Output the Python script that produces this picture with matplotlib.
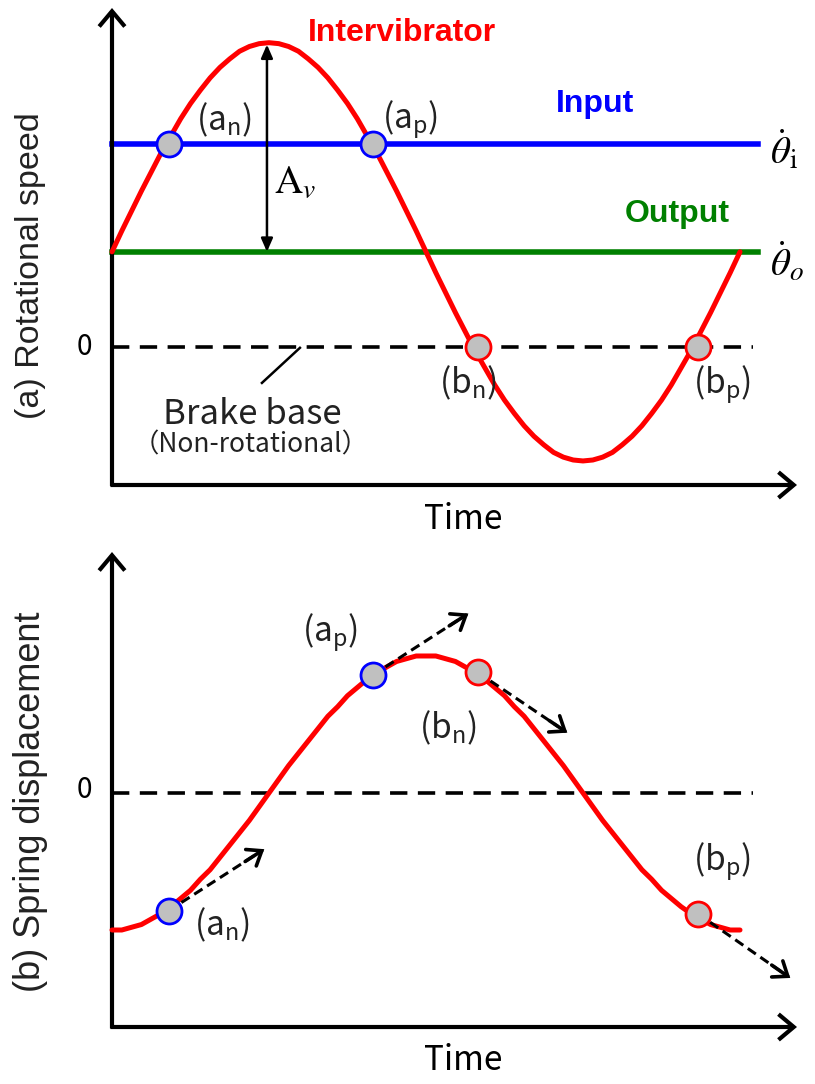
import numpy as np
import matplotlib
matplotlib.use("Agg")
import matplotlib.pyplot as plt

plt.rcParams['mathtext.fontset'] = 'stix'

# ---------------- data ----------------
# time in quarter-periods (0..4 = one vibration period)
time = np.linspace(0, 4, 65)
# (a) rotational speed of intervibrator (output level = 1)
intervibrator = [1.00, 1.22, 1.43, 1.64, 1.84, 2.04, 2.22, 2.40, 2.56,
                 2.70, 2.83, 2.94, 3.03, 3.11, 3.16, 3.19, 3.20,
                 3.19, 3.16, 3.11, 3.03, 2.94, 2.83, 2.70, 2.56,
                 2.40, 2.22, 2.04, 1.84, 1.64, 1.43, 1.22, 1.00,
                 0.78, 0.57, 0.36, 0.16, -0.04, -0.22, -0.40, -0.56,
                 -0.70, -0.83, -0.94, -1.03, -1.11, -1.16, -1.19, -1.20,
                 -1.19, -1.16, -1.11, -1.03, -0.94, -0.83, -0.70, -0.56,
                 -0.40, -0.22, -0.04, 0.16, 0.36, 0.57, 0.78, 1.00]
input_speed = 2.13
output_speed = 1.00
brake_speed = 0.0
line_end = 4.115
# (b) spring displacement
spring = [-1.00, -1.00, -0.98, -0.96, -0.92, -0.88, -0.83, -0.77, -0.71,
          -0.63, -0.56, -0.47, -0.38, -0.29, -0.20, -0.10, 0.00,
          0.10, 0.20, 0.29, 0.38, 0.47, 0.56, 0.63, 0.71,
          0.77, 0.83, 0.88, 0.92, 0.96, 0.98, 1.00, 1.00,
          1.00, 0.98, 0.96, 0.92, 0.88, 0.83, 0.77, 0.71,
          0.63, 0.56, 0.47, 0.38, 0.29, 0.20, 0.10, 0.00,
          -0.10, -0.20, -0.29, -0.38, -0.47, -0.56, -0.63, -0.71,
          -0.77, -0.83, -0.88, -0.92, -0.96, -0.98, -1.00, -1.00]
# characteristic points
point_names = ['a_n', 'a_p', 'b_n', 'b_p']
point_time = [0.36, 1.66, 2.33, 3.73]
point_speed = [2.13, 2.13, 0.0, 0.0]
point_disp = [-0.86, 0.86, 0.88, -0.88]
point_edge = ['#0000ff', '#0000ff', '#ff0000', '#ff0000']
# tangent arrows in (b): offsets from each point
arrow_dx = [0.61, 0.61, 0.57, 0.59]
arrow_dy = [0.45, 0.45, -0.44, -0.47]

RED, BLUE, GREEN, GRAY = '#ff0000', '#0000ff', '#008000', '#c0c0c0'
LAT = 'Noto Sans CJK JP'
ARIAL = 'Liberation Sans'
TXT = '#222222'

fig = plt.figure(figsize=(8.15, 10.84), dpi=100)
W, H = 815, 1084


def make_axes(x0, x1, ytop, ybot):
    return fig.add_axes([x0 / W, 1 - ybot / H, (x1 - x0) / W, (ybot - ytop) / H])


def draw_frame(ax, xmax, ybot, ytop):
    ax.set_xlim(0, xmax)
    ax.set_ylim(ybot, ytop)
    ax.axis('off')
    ap = dict(arrowstyle='->,head_length=0.5,head_width=0.42', lw=3.0,
              color='k', shrinkA=0, shrinkB=0, joinstyle='miter',
              capstyle='butt', mutation_scale=22)
    ax.annotate('', xy=(0, ytop), xytext=(0, ybot - 0.01), arrowprops=ap)
    ax.annotate('', xy=(xmax, ybot), xytext=(-0.01, ybot), arrowprops=ap)


# ---------------- (a) ----------------
ax1 = make_axes(112, 797, 8, 485)
draw_frame(ax1, 4.363, -1.453, 3.565)
ax1.plot([0, 4.08], [brake_speed, brake_speed], color='k', lw=2.6,
         dashes=(4.8, 2.9), clip_on=False, zorder=2)
ax1.plot([0, line_end], [input_speed, input_speed], color=BLUE, lw=4.0,
         clip_on=False, zorder=2)
ax1.plot([0, line_end], [output_speed, output_speed], color=GREEN, lw=4.0,
         clip_on=False, zorder=2)
ax1.plot(time, intervibrator, color=RED, lw=3.6, clip_on=False, zorder=3,
         solid_capstyle='round', solid_joinstyle='round')
ax1.annotate('', xy=(0.987, 3.18), xytext=(0.987, 1.0),
             arrowprops=dict(arrowstyle='<|-|>,head_length=0.8,head_width=0.35',
                             lw=1.8, color='k', shrinkA=0, shrinkB=0), zorder=4)
for t, v, ec in zip(point_time, point_speed, point_edge):
    ax1.plot(t, v, 'o', ms=18, mfc=GRAY, mec=ec, mew=2.0, zorder=5,
             clip_on=False)

ax1.text(1.847, 3.30, 'Intervibrator', color=RED, fontsize=23,
         fontweight='bold', family=ARIAL, ha='center', va='center')
ax1.text(3.076, 2.558, 'Input', color=BLUE, fontsize=23, fontweight='bold',
         family=ARIAL, ha='center', va='center')
ax1.text(3.599, 1.40, 'Output', color=GREEN, fontsize=23, fontweight='bold',
         family=ARIAL, ha='center', va='center')
ax1.text(4.19, 2.07, r'$\dot{\theta}_{\mathrm{i}}$', fontsize=28,
         ha='left', va='center')
ax1.text(4.19, 0.89, r'$\dot{\theta}_{o}$', fontsize=28,
         ha='left', va='center')
ax1.text(1.03, 1.74, r'$\mathrm{A}_{v}$', fontsize=28, ha='left',
         va='center')
ax1.text(-0.178, 0.0, '0', fontsize=20, family=LAT, ha='center',
         va='center')
ax1.text(-0.522, 0.86, '(a) Rotational speed', fontsize=24.5, family=ARIAL,
         rotation=90, ha='center', va='center', color=TXT)
ax1.text(2.236, -1.82, 'Time', fontsize=24, family=LAT, ha='center',
         va='center')
lab_a = {'a_n': (0.713, 2.39), 'a_p': (1.898, 2.39),
         'b_n': (2.268, -0.38), 'b_p': (3.885, -0.40)}
for name in point_names:
    x, y = lab_a[name]
    letter, sub = name.split('_')
    ax1.text(x, y, r'$\mathregular{(%s_{%s})}$' % (letter, sub), fontsize=24,
             family=LAT, ha='center', va='center', color=TXT)
ax1.plot([1.197, 0.955], [-0.01, -0.379], color='k', lw=1.8)
ax1.text(0.892, -0.716, 'Brake base', fontsize=25, family=LAT,
         ha='center', va='center', color=TXT)
ax1.text(0.885, -1.03, '（Non-rotational）', fontsize=19, family=LAT,
         ha='center', va='center', color=TXT)

# ---------------- (b) ----------------
ax2 = make_axes(112, 797, 552, 1027)
draw_frame(ax2, 4.363, -1.708, 1.759)
ax2.plot([0, 4.08], [0, 0], color='k', lw=2.6, dashes=(4.8, 2.9),
         clip_on=False, zorder=2)
ax2.plot(time, spring, color=RED, lw=3.6, clip_on=False, zorder=3,
         solid_capstyle='round', solid_joinstyle='round')
for t, d, dx, dy in zip(point_time, point_disp, arrow_dx, arrow_dy):
    ex, ey = t + dx, d + dy
    ax2.plot([t, t + 0.9 * dx], [d, d + 0.9 * dy], color='k', lw=2.2,
             dashes=(3.2, 1.8), zorder=4, clip_on=False)
    ax2.annotate('', xy=(ex, ey), xytext=(t + 0.8 * dx, d + 0.8 * dy),
                 arrowprops=dict(arrowstyle='->,head_length=0.42,head_width=0.32',
                                 lw=2.6, color='k', shrinkA=0, shrinkB=0,
                                 joinstyle='miter', mutation_scale=22),
                 zorder=4)
for t, d, ec in zip(point_time, point_disp, point_edge):
    ax2.plot(t, d, 'o', ms=18, mfc=GRAY, mec=ec, mew=2.0, zorder=5,
             clip_on=False)
lab_b = {'a_n': (0.70, -0.964), 'a_p': (1.389, 1.168),
         'b_n': (2.14, 0.474), 'b_p': (3.885, -0.504)}
for name in point_names:
    x, y = lab_b[name]
    letter, sub = name.split('_')
    ax2.text(x, y, r'$\mathregular{(%s_{%s})}$' % (letter, sub), fontsize=24,
             family=LAT, ha='center', va='center', color=TXT)
ax2.text(-0.178, 0.02, '0', fontsize=20, family=LAT, ha='center',
         va='center')
ax2.text(-0.522, -0.066, '(b) Spring displacement', fontsize=26,
         family=ARIAL, rotation=90, ha='center', va='center', color=TXT)
ax2.text(2.236, -1.949, 'Time', fontsize=24, family=LAT, ha='center',
         va='center')

fig.savefig('out.png', dpi=100)
